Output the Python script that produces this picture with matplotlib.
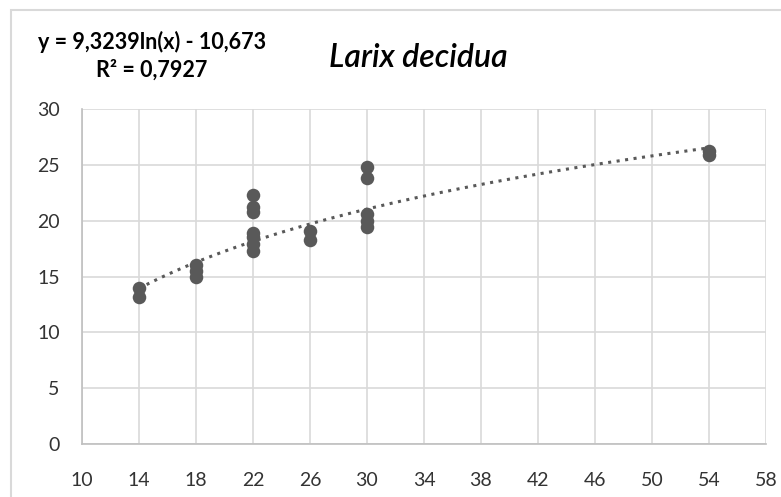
import numpy as np
import matplotlib
matplotlib.use('Agg')
import matplotlib.pyplot as plt
from matplotlib.patches import Rectangle

# stem diameter classes and measured heights
diam = [14, 14,
        18, 18, 18,
        22, 22, 22, 22, 22, 22, 22,
        26, 26,
        30, 30, 30, 30, 30,
        54, 54]
height = [14.0, 13.2,
          16.0, 15.5, 15.0,
          22.3, 21.2, 20.8, 18.9, 18.5, 17.9, 17.3,
          19.1, 18.3,
          24.8, 23.8, 20.6, 20.0, 19.4,
          26.2, 25.9]

# logarithmic trend y = a*ln(x) + b
coef_a = 9.3239
coef_b = -10.673
r2 = 0.7927

x_ticks = list(range(10, 59, 4))
y_ticks = list(range(0, 31, 5))

plt.rcParams['font.family'] = ['Lato', 'DejaVu Sans']
grey = '#595959'

fig = plt.figure(figsize=(7.81, 4.97), dpi=100)
fig.patches.append(Rectangle((11 / 781, -0.1), 1.2, (487 / 497) + 0.1,
                             transform=fig.transFigure, fill=False,
                             edgecolor='#d9d9d9', linewidth=1.5))

ax = fig.add_axes([82 / 781, 53 / 497, 684 / 781, 335 / 497])

xs = np.linspace(min(diam), max(diam), 200)
ax.plot(xs, coef_a * np.log(xs) + coef_b, color=grey, linewidth=2.2,
        linestyle=(0, (1, 1.8)), zorder=2)
ax.scatter(diam, height, s=95, color=grey, zorder=3, linewidths=0)

ax.set_xlim(10, 58)
ax.set_ylim(0, 30)
ax.set_xticks(x_ticks)
ax.set_yticks(y_ticks)
ax.grid(True, color='#d9d9d9', linewidth=1.2)
ax.set_axisbelow(True)
for side in ['top', 'right']:
    ax.spines[side].set_visible(False)
for side in ['left', 'bottom']:
    ax.spines[side].set_color('#bfbfbf')
    ax.spines[side].set_linewidth(1.2)
ax.tick_params(length=0, labelsize=14, colors='#333333')
ax.tick_params(axis='x', pad=20)
ax.tick_params(axis='y', pad=16)

eq = 'y = {:.4f}ln(x) - {:.3f}'.format(coef_a, -coef_b).replace('.', ',')
fig.text(152 / 781, 1 - 42 / 497, eq, ha='center',
         va='center', fontsize=15.5, fontweight='bold')
fig.text(152 / 781, 1 - 70 / 497, 'R² = ' + '{:.4f}'.format(r2).replace('.', ','),
         ha='center', va='center', fontsize=15.5, fontweight='bold')
fig.text(418 / 781, 1 - 58 / 497, 'Larix decidua', ha='center',
         va='center', fontsize=23, fontstyle='italic', fontweight='semibold')

fig.savefig('out.png', dpi=100)
